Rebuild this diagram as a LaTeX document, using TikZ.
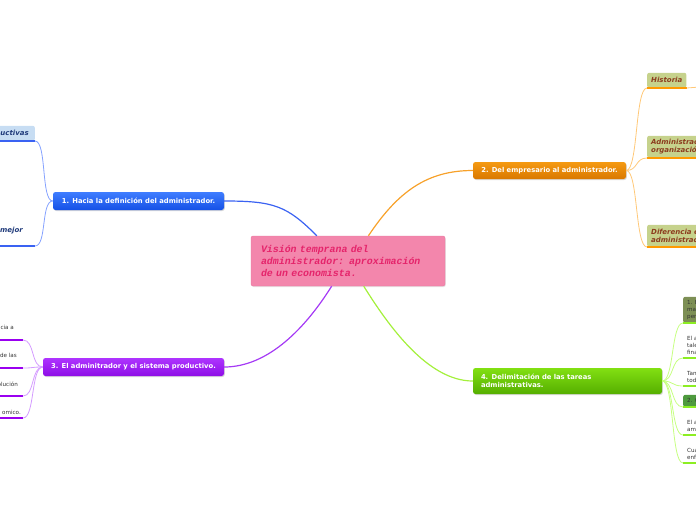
\documentclass[tikz,border=0pt]{standalone}
\usepackage{fontspec}
\setmainfont{DejaVu Sans}
\newfontfamily\monoit{Liberation Mono}
\usetikzlibrary{positioning, shadows}

\definecolor{crosa}{HTML}{F386AC}
\definecolor{cborde}{HTML}{E879A0}
\definecolor{ctexto}{HTML}{E5246B}
\definecolor{azulA}{HTML}{3F7DFF}
\definecolor{azulB}{HTML}{1550E6}
\definecolor{azulL}{HTML}{3A62F2}
\definecolor{azulF}{HTML}{85A2FF}
\definecolor{azulT}{HTML}{1F3A7A}
\definecolor{celeste}{HTML}{C7DDF3}
\definecolor{narA}{HTML}{F59A12}
\definecolor{narB}{HTML}{D97800}
\definecolor{narL}{HTML}{F7A12A}
\definecolor{narF}{HTML}{FFC878}
\definecolor{narS}{HTML}{FF9A00}
\definecolor{caqui}{HTML}{C6D28C}
\definecolor{marron}{HTML}{8C3C1E}
\definecolor{morA}{HTML}{AE34FF}
\definecolor{morB}{HTML}{8E0EE6}
\definecolor{morL}{HTML}{A53AF5}
\definecolor{morF}{HTML}{D49CFF}
\definecolor{morS}{HTML}{9A00F0}
\definecolor{verA}{HTML}{82E012}
\definecolor{verB}{HTML}{55AE00}
\definecolor{verL}{HTML}{A4F03C}
\definecolor{verF}{HTML}{C6FF80}
\definecolor{verS}{HTML}{8CEE22}
\definecolor{olivo}{HTML}{7D8F55}
\definecolor{verO}{HTML}{4E9A3E}
\definecolor{gris}{HTML}{333333}

\begin{document}
\begin{tikzpicture}[
  x=1pt, y=-1pt,
  centro/.style={draw=cborde, fill=crosa, rounded corners=2pt,
    minimum width=194pt, minimum height=50pt, text width=174pt,
    inner xsep=10pt, align=left, text=ctexto,
    font=\monoit\bfseries\itshape\fontsize{9.9}{12}\selectfont,
    drop shadow={opacity=0.2, shadow xshift=0.8pt, shadow yshift=-1pt}},
  rama/.style={rounded corners=2.5pt, inner sep=0pt, text=white,
    font=\bfseries\fontsize{6.8}{8.5}\selectfont,
    drop shadow={opacity=0.3, shadow xshift=0.8pt, shadow yshift=-1pt}},
  hizq/.style={anchor=south east, inner ysep=2pt},
  hder/.style={anchor=south west, inner xsep=4pt, inner ysep=3pt, align=left},
  titulo/.style={font=\bfseries\itshape\fontsize{7}{8.5}\selectfont},
  nota/.style={text=gris, font=\fontsize{5.6}{7}\selectfont},
  lazo/.style={line width=1.2pt},
  fino/.style={line width=0.8pt},
  raya/.style={line width=2.5pt},
]
  \useasboundingbox (0,0) rectangle (696,520);

  % idea central
  \node[centro] (centro) at (348,261)
    {Visión temprana del\\administrador: aproximación\\de un economista.};

  % ramas principales
  \node[rama, top color=azulA, bottom color=azulB,
    minimum width=171pt, minimum height=18pt] (r1) at (138.5,201)
    {1. Hacia la definición del administrador.};
  \node[rama, top color=narA, bottom color=narB,
    minimum width=153pt, minimum height=17pt] (r2) at (549.5,170.5)
    {2. Del empresario al administrador.};
  \node[rama, top color=morA, bottom color=morB,
    minimum width=181pt, minimum height=18pt] (r3) at (133.5,367)
    {3. El adminitrador y el sistema productivo.};
  \node[rama, top color=verA, bottom color=verB, align=left,
    text width=173pt, inner xsep=8pt, minimum height=26pt] (r4) at (567.5,381)
    {4. Delimitación de las tareas\\administrativas.};

  \draw[lazo, azulL] (centro.141) .. controls +(-30,-30) and +(50,0) .. (r1.east);
  \draw[lazo, narL] (centro.51) .. controls +(30,-45) and +(-45,0) .. (r2.west);
  \draw[lazo, morL] (centro.237) .. controls +(-25,40) and +(45,0) .. (r3.east);
  \draw[lazo, verL] (centro.302) .. controls +(25,40) and +(-45,0) .. (r4.west);

  % hijos de la rama 1
  \node[hizq, titulo, text=azulT, fill=celeste, rounded corners=2pt,
    inner xsep=6pt, minimum height=15pt] (h11) at (35,141) {uctivas};
  \node[hizq, titulo, text=azulT, inner xsep=12pt,
    minimum height=30pt] (h12) at (35,246) {mejor};

  % hijos de la rama 2
  \node[hder, titulo, text=marron, fill=caqui, rounded corners=2pt,
    minimum height=15pt] (h21) at (647,88) {Historia};
  \node[hder, titulo, text=marron, fill=caqui, rounded corners=2pt,
    minimum height=22pt] (h22) at (647,158) {Administrac\\organizació};
  \node[hder, titulo, text=marron, fill=caqui, rounded corners=2pt,
    minimum height=22pt] (h23) at (647,247) {Diferencia e\\administrac};
  \coordinate (h21c) at (700,87);

  % hijos de la rama 3
  \node[hizq, nota, inner xsep=9pt, minimum height=24pt] (h31) at (23,340) {cia a};
  \node[hizq, nota, inner xsep=6pt, minimum height=24pt] (h32) at (23,368) {de las};
  \node[hizq, nota, inner xsep=5pt, minimum height=24pt] (h33) at (23,396) {olución};
  \node[hizq, nota, inner xsep=2pt, minimum height=10pt] (h34) at (23,418) {omico.};

  % hijos de la rama 4
  \node[hder, nota, fill=olivo, rounded corners=2pt,
    minimum height=26pt] (h41) at (683,323) {1. E\\ma\\per};
  \node[hder, nota] (h42) at (683,358) {El a\\tale\\fina};
  \node[hder, nota] (h43) at (683,386) {Tan\\tod};
  \node[hder, nota, fill=verO, rounded corners=2pt,
    minimum height=12pt] (h44) at (683,407) {2. C};
  \node[hder, nota] (h45) at (683,435) {El a\\am};
  \node[hder, nota] (h46) at (683,463) {Cua\\enf};

  % subrayados
  \foreach \n/\c in {h11/azulL, h12/azulL, h21/narS, h22/narS, h23/narS,
      h31/morS, h32/morS, h33/morS, h34/morS,
      h41/verS, h42/verS, h43/verS, h44/verS, h45/verS, h46/verS}
    \draw[raya, \c] (\n.south west) -- (\n.south east);

  % enlaces finos
  \foreach \n in {h11, h12}
    \draw[fino, azulF] (r1.west) .. controls +(-12,0) and +(12,0) .. (\n.south east);
  \foreach \n in {h21, h22, h23}
    \draw[fino, narF] (r2.east) .. controls +(12,0) and +(-12,0) .. (\n.south west);
  \draw[fino, narF] (h21.south east) -- (h21c);
  \foreach \n in {h31, h32, h33, h34}
    \draw[fino, morF] (r3.west) .. controls +(-12,0) and +(12,0) .. (\n.south east);
  \foreach \n in {h41, h42, h43, h44, h45, h46}
    \draw[fino, verF] (r4.east) .. controls +(12,0) and +(-12,0) .. (\n.south west);
\end{tikzpicture}
\end{document}
